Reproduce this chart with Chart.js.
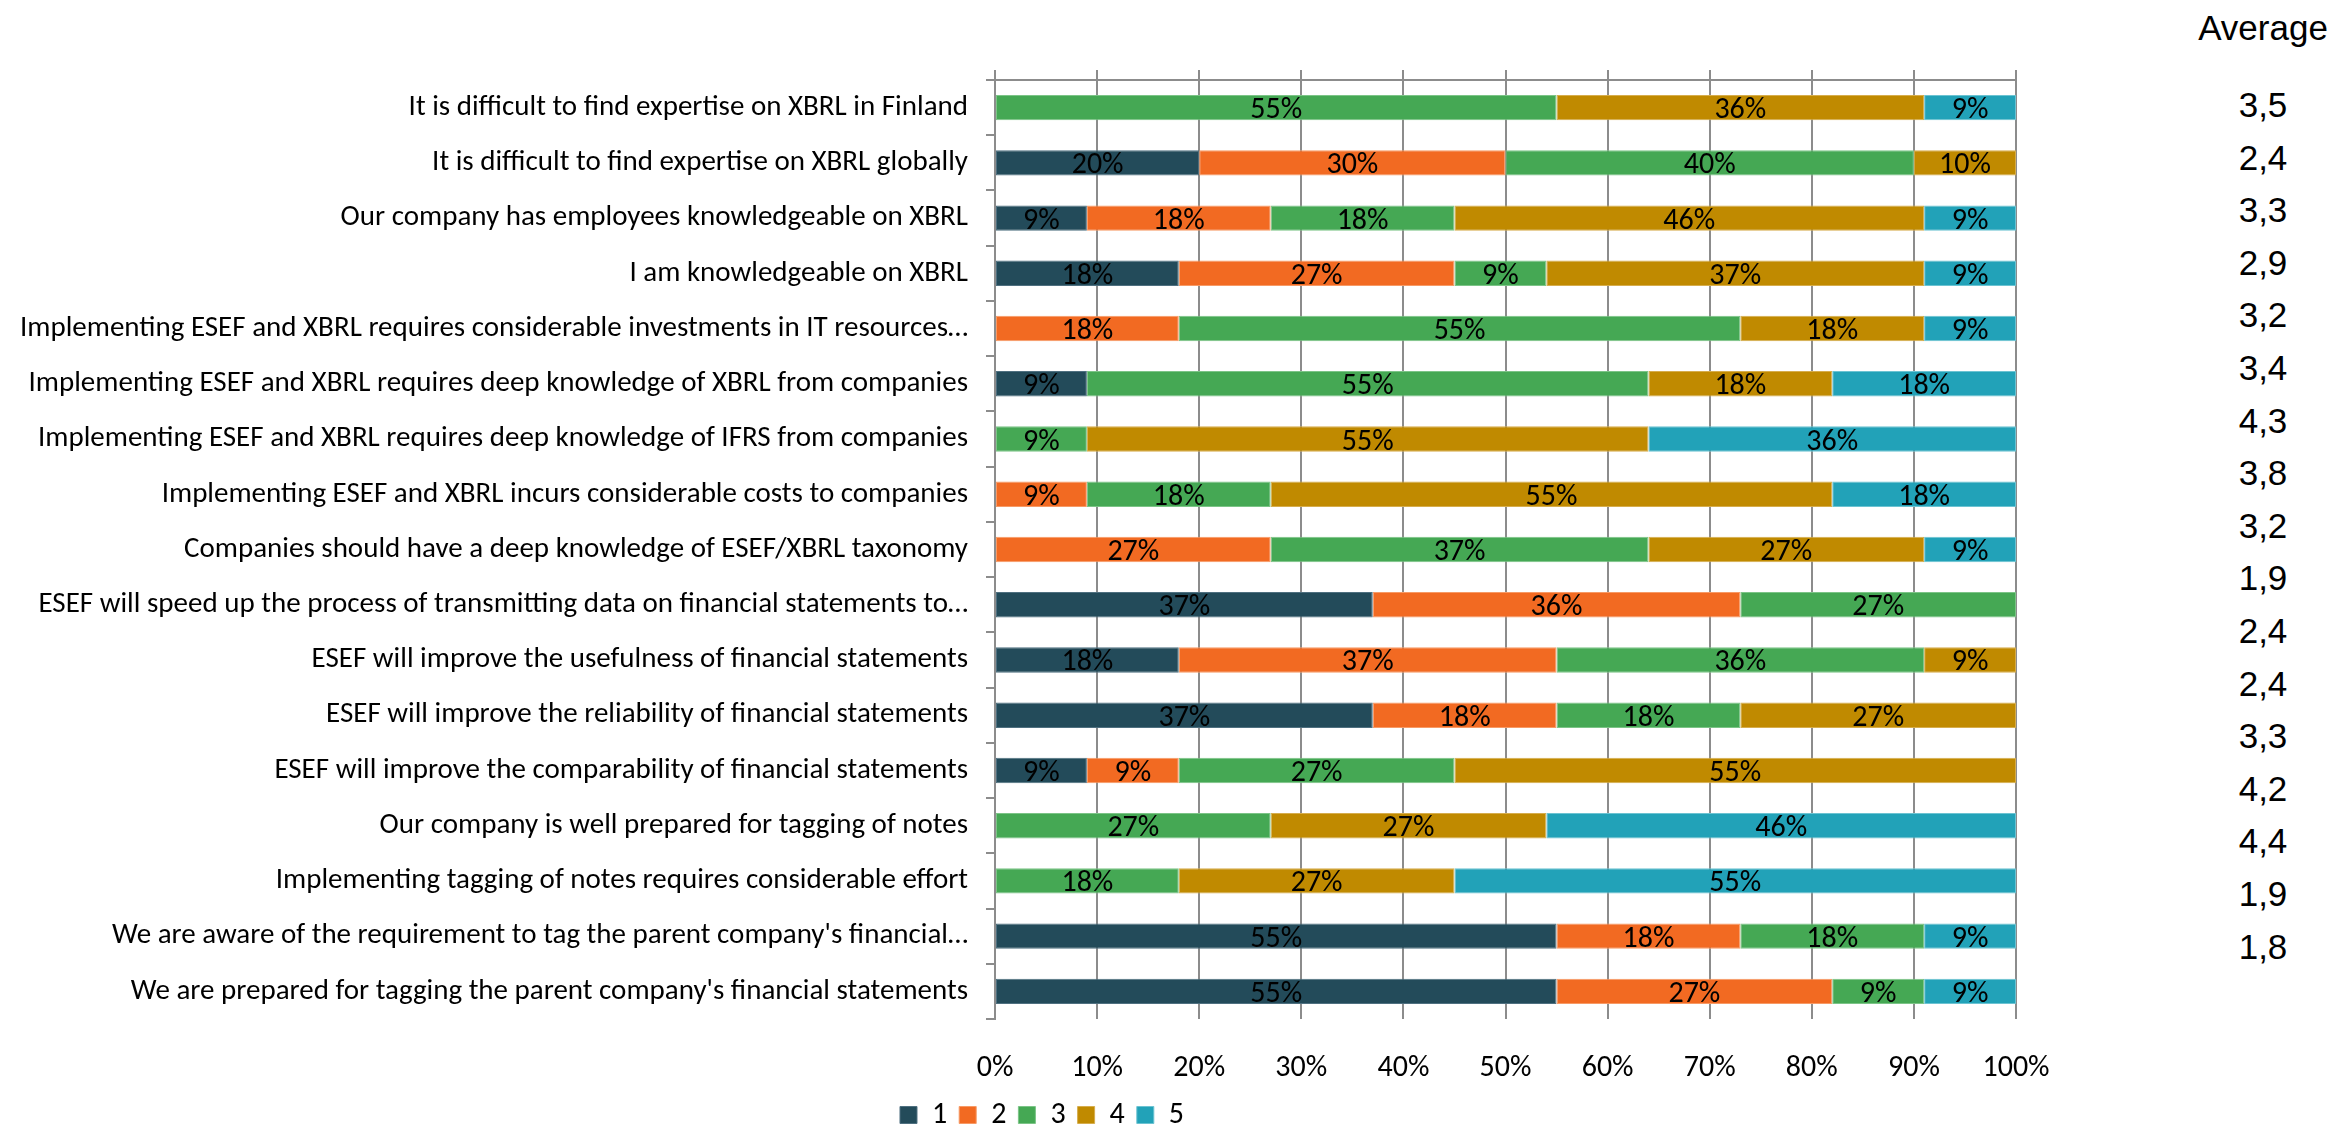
<!DOCTYPE html>
<html>
<head>
<meta charset="utf-8">
<script src="https://cdn.jsdelivr.net/npm/chart.js@4"></script>
<style>
  html, body { margin: 0; padding: 0; background: #fff; overflow: hidden; }
  #wrap { position: relative; width: 2338px; height: 1128px; }
  #chartBox { position: absolute; left: 0; top: 0; width: 2084px; height: 1140px; }
  #avg { position: absolute; left: 2188px; top: 0; width: 150px; text-align: center;
         font-family: "Liberation Sans", Arial, sans-serif; font-size: 35px; color: #000; }
  #avg .head { height: 56px; line-height: 56px; }
  #avg .val { height: 52.6px; line-height: 52.6px; }
</style>
</head>
<body>
<div id="wrap">
  <div id="chartBox"><canvas id="likertChart" width="2084" height="1140"></canvas></div>
  <div id="avg"></div>
</div>
<script>
const statements = [
  "It is difficult to find expertise on XBRL in Finland",
  "It is difficult to find expertise on XBRL globally",
  "Our company has employees knowledgeable on XBRL",
  "I am knowledgeable on XBRL",
  "Implementing ESEF and XBRL requires considerable investments in IT resources…",
  "Implementing ESEF and XBRL requires deep knowledge of XBRL from companies",
  "Implementing ESEF and XBRL requires deep knowledge of IFRS from companies",
  "Implementing ESEF and XBRL incurs considerable costs to companies",
  "Companies should have a deep knowledge of ESEF/XBRL taxonomy",
  "ESEF will speed up the process of transmitting data on financial statements to…",
  "ESEF will improve the usefulness of financial statements",
  "ESEF will improve the reliability of financial statements",
  "ESEF will improve the comparability of financial statements",
  "Our company is well prepared for tagging of notes",
  "Implementing tagging of notes requires considerable effort",
  "We are aware of the requirement to tag the parent company's financial…",
  "We are prepared for tagging the parent company's financial statements"
];

// share of answers (%) per score, rows in the same order as statements
const score1 = [0, 20, 9, 18, 0, 9, 0, 0, 0, 37, 18, 37, 9, 0, 0, 55, 55];
const score2 = [0, 30, 18, 27, 18, 0, 0, 9, 27, 36, 37, 18, 9, 0, 0, 18, 27];
const score3 = [55, 40, 18, 9, 55, 55, 9, 18, 37, 27, 36, 18, 27, 27, 18, 18, 9];
const score4 = [36, 10, 46, 37, 18, 18, 55, 55, 27, 0, 9, 27, 55, 27, 27, 0, 0];
const score5 = [9, 0, 9, 9, 9, 18, 36, 18, 9, 0, 0, 0, 0, 46, 55, 9, 9];

const averages = ["3,5", "2,4", "3,3", "2,9", "3,2", "3,4", "4,3", "3,8", "3,2",
                  "1,9", "2,4", "2,4", "3,3", "4,2", "4,4", "1,9", "1,8"];

const seriesNames = ["1", "2", "3", "4", "5"];
const seriesColors = ["#234B5A", "#F26A22", "#45A854", "#C08A00", "#22A2B8"];
const seriesEdges = ["#4f7080", "#f79a66", "#7cc487", "#d6ad4d", "#6cc3d2"];
const xTicks = [0, 10, 20, 30, 40, 50, 60, 70, 80, 90, 100];

const FONT = "Carlito, Calibri, Lato, sans-serif";
const GRID = "#8c8c8c";

// average column on the right
const avgBox = document.getElementById('avg');
avgBox.innerHTML = '<div class="head">Average</div>' +
  averages.map(a => '<div class="val">' + a + '</div>').join('');
avgBox.querySelector('.val').style.marginTop = '23px';

const segmentLabels = {
  id: 'segmentLabels',
  afterDatasetsDraw(chart) {
    const ctx = chart.ctx;
    ctx.save();
    ctx.font = '30px ' + FONT;
    ctx.fillStyle = '#000';
    ctx.textAlign = 'center';
    ctx.textBaseline = 'middle';
    chart.data.datasets.forEach((ds, i) => {
      const meta = chart.getDatasetMeta(i);
      meta.data.forEach((bar, j) => {
        const v = ds.data[j];
        if (!v) return;
        ctx.fillText(v + '%', (bar.x + bar.base) / 2, bar.y + 3);
      });
    });
    ctx.restore();
  }
};

const allScores = [score1, score2, score3, score4, score5];

const data = {
  labels: statements,
  datasets: allScores.map((vals, i) => ({
    label: seriesNames[i],
    data: vals,
    backgroundColor: seriesColors[i],
    borderColor: seriesEdges[i],
    borderWidth: 1,
    borderSkipped: false,
    barPercentage: 0.46,
    categoryPercentage: 1
  }))
};

const config = {
  type: 'bar',
  data: data,
  options: {
    indexAxis: 'y',
    responsive: false,
    animation: false,
    devicePixelRatio: 1,
    layout: { padding: { top: 70, right: 0, left: 0, bottom: 0 } },
    scales: {
      x: {
        stacked: true,
        min: 0, max: 100,
        afterBuildTicks: (s) => { s.ticks = xTicks.map(v => ({ value: v })); },
        // right gap comes from the axis, so the legend stays centred on the canvas
        afterFit: (s) => { s.height = 69; s.paddingRight = 68; },
        grid: { color: GRID, lineWidth: 2, drawTicks: false },
        border: { display: false },
        ticks: { padding: 31, color: '#000', font: { family: FONT, size: 30 },
                 callback: (v) => v + '%' }
      },
      xTop: {
        position: 'top',
        min: 0, max: 100,
        afterBuildTicks: (s) => { s.ticks = xTicks.map(v => ({ value: v })); },
        afterFit: (s) => { s.height = 10; },
        grid: { color: GRID, lineWidth: 2, drawOnChartArea: false, tickLength: 10 },
        border: { display: true, color: GRID, width: 2 },
        ticks: { display: false }
      },
      y: {
        stacked: true,
        afterFit: (s) => { s.width = 995; },
        grid: { color: GRID, lineWidth: 2, drawOnChartArea: false, tickLength: 9, offset: true },
        border: { display: true, color: GRID, width: 2 },
        ticks: { padding: 18, color: '#000', font: { family: FONT, size: 29 } }
      }
    },
    plugins: {
      legend: {
        position: 'bottom',
        labels: { boxWidth: 17, boxHeight: 17, padding: 12, color: '#000',
                  font: { family: FONT, size: 30 } }
      },
      tooltip: { enabled: false }
    }
  },
  plugins: [segmentLabels]
};

window.likertChart = new Chart(document.getElementById('likertChart'), config);
</script>
</body>
</html>
